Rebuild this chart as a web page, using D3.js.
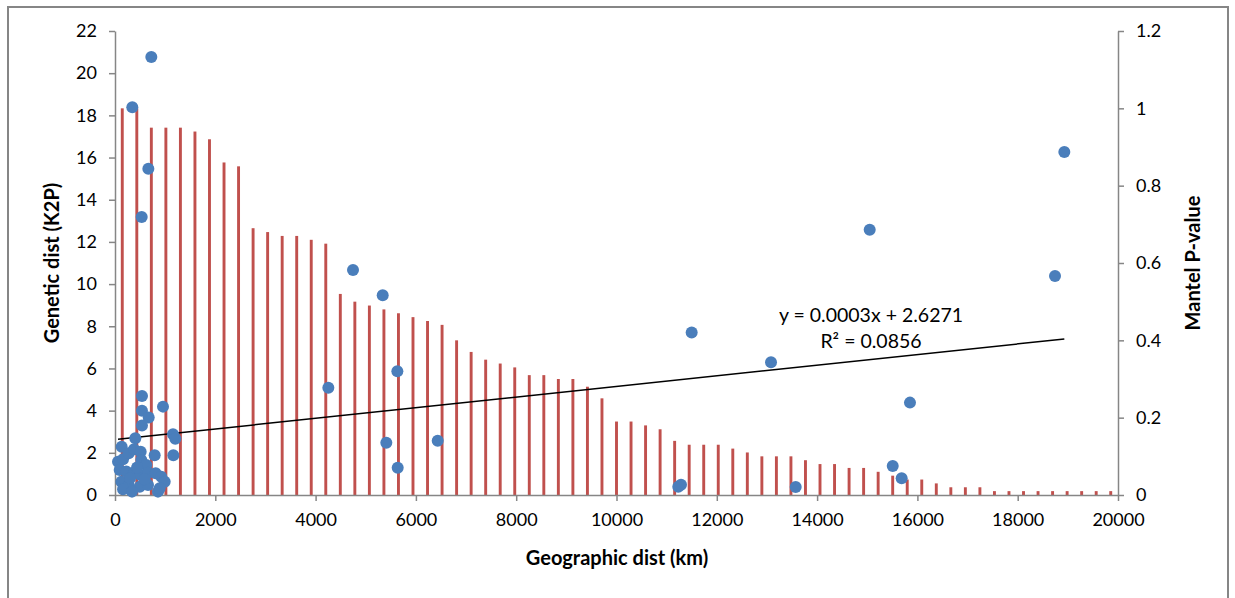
<!DOCTYPE html>
<html>
<head>
<meta charset="utf-8">
<script src="https://cdn.jsdelivr.net/npm/d3@7"></script>
<style>
  body { margin: 0; background: #fff; }
  text { font-family: Lato, "Open Sans", sans-serif; fill: #000; }
</style>
</head>
<body>
<div id="chart"></div>
<script>
// data

// mantel p-value bars, one per distance class (secondary axis)
var mantelP = [1.0, 1.0, 0.95, 0.95, 0.95, 0.94, 0.92, 0.86, 0.85, 0.69,
  0.68, 0.67, 0.67, 0.66, 0.65, 0.52, 0.50, 0.49, 0.48, 0.47,
  0.46, 0.45, 0.44, 0.40, 0.37, 0.35, 0.34, 0.33, 0.31, 0.31,
  0.30, 0.30, 0.28, 0.25, 0.19, 0.19, 0.18, 0.17, 0.14, 0.13,
  0.13, 0.13, 0.12, 0.11, 0.10, 0.10, 0.10, 0.09, 0.08, 0.08,
  0.07, 0.07, 0.06, 0.05, 0.04, 0.04, 0.03, 0.02, 0.02, 0.02,
  0.01, 0.01, 0.01, 0.01, 0.01, 0.01, 0.01, 0.01, 0.01];
var distClass = mantelP.map(function(d, i){ return 'c' + i; });

// geographic dist (km) vs genetic dist (K2P)
var geoKm = [724, 345, 665, 532, 4746, 5338, 4254, 5630, 5410, 5637, 6435,
  11232, 11286, 13573, 15852, 15508, 15686, 11499, 13081, 15049, 18744, 18930,
  538, 538, 672, 538, 957, 405, 1157, 1203, 1163, 133, 791,
  60, 160, 273, 379, 512, 525, 624, 94, 226, 379, 512, 658, 811, 923, 991,
  126, 273, 493, 658, 160, 339, 857, 891, 300, 440, 590];
var k2p = [20.77, 18.38, 15.47, 13.18, 10.67, 9.47, 5.09, 5.87, 2.48, 1.29, 2.57,
  0.39, 0.49, 0.38, 4.38, 1.38, 0.79, 7.70, 6.29, 12.58, 10.38, 16.26,
  4.69, 4.0, 3.68, 3.29, 4.19, 2.69, 2.88, 2.67, 1.88, 2.29, 1.88,
  1.58, 1.69, 1.98, 2.17, 2.05, 1.66, 1.42, 1.19, 1.11, 1.03, 0.95, 1.06, 1.03, 0.87, 0.63,
  0.63, 0.47, 0.39, 0.47, 0.27, 0.16, 0.16, 0.32, 0.8, 1.3, 0.75];

// linear trend (as drawn)
var trendSlope = 0.000252, trendIntercept = 2.6271;
var trendLabel = ['y = 0.0003x + 2.6271', 'R\u00b2 = 0.0856'];

var xTicks = [0, 2000, 4000, 6000, 8000, 10000, 12000, 14000, 16000, 18000, 20000];
var yTicks = [0, 2, 4, 6, 8, 10, 12, 14, 16, 18, 20, 22];
var y2Ticks = [0, 0.2, 0.4, 0.6, 0.8, 1, 1.2];

//constants
var width = 1235, height = 598,
  margin = {top: 31, right: 117, bottom: 103, left: 115};
var axisCol = '#868686';

var svg = d3.select('#chart').append('svg')
  .attr('width', width)
  .attr('height', height);

// chart border
svg.append('rect')
  .attr('x', 8).attr('y', 7)
  .attr('width', 1220).attr('height', 600)
  .attr('fill', 'none')
  .attr('stroke', axisCol)
  .attr('stroke-width', 2);

var x = d3.scaleLinear().domain([0, 20000]).range([margin.left, width - margin.right]);
var y = d3.scaleLinear().domain([0, 22]).range([height - margin.bottom, margin.top]);
var y2 = d3.scaleLinear().domain([0, 1.2]).range([height - margin.bottom, margin.top]);
var xb = d3.scaleBand().domain(distClass)
  .range([margin.left, width - margin.right])
  .paddingInner(0.8).paddingOuter(0.4);

// bars
svg.selectAll('rect.bar').data(mantelP).enter()
  .append('rect')
  .classed('bar', true)
  .attr('x', function(d, i){ return xb(distClass[i]); })
  .attr('width', xb.bandwidth())
  .attr('y', function(d){ return y2(d); })
  .attr('height', function(d){ return y2(0) - y2(d); })
  .attr('fill', '#C0504D');

// axes
function styleAxis(g){
  g.selectAll('path, line').attr('stroke', axisCol).attr('stroke-width', 1.5);
  g.selectAll('text').style('font-size', '18px').attr('fill', '#000');
}

svg.append('g')
  .attr('transform', 'translate(' + margin.left + ',0)')
  .call(d3.axisLeft(y).tickValues(yTicks).tickSize(6).tickSizeOuter(0).tickPadding(12))
  .call(styleAxis);

svg.append('g')
  .attr('transform', 'translate(' + (width - margin.right) + ',0)')
  .call(d3.axisRight(y2).tickValues(y2Ticks).tickSize(6).tickSizeOuter(0).tickPadding(12)
    .tickFormat(function(d){ return String(d); }))
  .call(styleAxis);

svg.append('g')
  .attr('transform', 'translate(0,' + (height - margin.bottom) + ')')
  .call(d3.axisBottom(x).tickValues(xTicks).tickSize(6).tickSizeOuter(0).tickPadding(12)
    .tickFormat(function(d){ return String(d); }))
  .call(styleAxis);

// trend line
var xMin = d3.min(geoKm), xMax = d3.max(geoKm);
svg.append('line')
  .attr('x1', x(xMin)).attr('y1', y(trendIntercept + trendSlope * xMin))
  .attr('x2', x(xMax)).attr('y2', y(trendIntercept + trendSlope * xMax))
  .attr('stroke', '#000')
  .attr('stroke-width', 1.5);

// scatter points
svg.selectAll('circle.pt').data(geoKm).enter()
  .append('circle')
  .classed('pt', true)
  .attr('cx', function(d){ return x(d); })
  .attr('cy', function(d, i){ return y(k2p[i]); })
  .attr('r', 6)
  .attr('fill', '#4A7EBB');

// equation label
svg.selectAll('text.eq').data(trendLabel).enter()
  .append('text')
  .classed('eq', true)
  .attr('x', 871)
  .attr('y', function(d, i){ return 322 + i * 26; })
  .attr('text-anchor', 'middle')
  .style('font-size', '19.5px')
  .text(function(d){ return d; });

// axis titles
svg.append('text')
  .attr('x', 617).attr('y', 565)
  .attr('text-anchor', 'middle')
  .style('font-size', '20px').style('font-weight', 'bold')
  .text('Geographic dist (km)');

svg.append('text')
  .attr('transform', 'translate(59,263) rotate(-90)')
  .attr('text-anchor', 'middle')
  .style('font-size', '20px').style('font-weight', 'bold')
  .text('Genetic dist (K2P)');

svg.append('text')
  .attr('transform', 'translate(1200,263) rotate(-90)')
  .attr('text-anchor', 'middle')
  .style('font-size', '20px').style('font-weight', 'bold')
  .text('Mantel P-value');
</script>
</body>
</html>
